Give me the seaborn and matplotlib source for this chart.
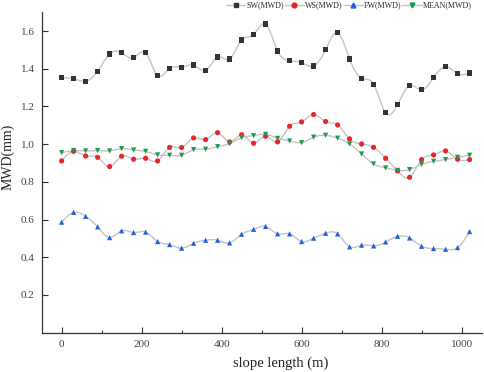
import numpy as np
import pandas as pd
import matplotlib
matplotlib.use("Agg")
import matplotlib.pyplot as plt
from matplotlib.lines import Line2D
from matplotlib.ticker import MultipleLocator
import seaborn as sns

slope_length = list(range(0, 1021, 30))

sw = [1.353, 1.347, 1.334, 1.387, 1.479, 1.485, 1.459, 1.485, 1.363, 1.403, 1.408, 1.420,
      1.392, 1.463, 1.452, 1.553, 1.581, 1.638, 1.494, 1.443, 1.432, 1.415, 1.501, 1.593,
      1.452, 1.350, 1.318, 1.166, 1.210, 1.310, 1.288, 1.353, 1.411, 1.374, 1.378]
ws = [0.911, 0.962, 0.937, 0.930, 0.881, 0.936, 0.920, 0.925, 0.911, 0.983, 0.982, 1.033,
      1.024, 1.061, 1.012, 1.050, 1.005, 1.042, 1.012, 1.095, 1.118, 1.157, 1.120, 1.102,
      1.028, 1.001, 0.983, 0.925, 0.858, 0.824, 0.918, 0.943, 0.964, 0.920, 0.918]
fw = [0.586, 0.638, 0.617, 0.561, 0.504, 0.540, 0.531, 0.533, 0.483, 0.467, 0.448, 0.474,
      0.490, 0.490, 0.476, 0.522, 0.548, 0.563, 0.524, 0.524, 0.483, 0.501, 0.527, 0.524,
      0.455, 0.464, 0.460, 0.481, 0.511, 0.502, 0.458, 0.446, 0.442, 0.451, 0.536]
mean = [0.955, 0.966, 0.964, 0.966, 0.964, 0.976, 0.969, 0.962, 0.943, 0.941, 0.941, 0.971,
        0.973, 0.987, 1.003, 1.035, 1.045, 1.052, 1.031, 1.017, 1.008, 1.037, 1.047, 1.032,
        1.001, 0.948, 0.895, 0.874, 0.861, 0.865, 0.893, 0.909, 0.918, 0.930, 0.941]

series_names = ["SW(MWD)", "WS(MWD)", "FW(MWD)", "MEAN(MWD)"]
series_values = [sw, ws, fw, mean]
series_colors = ["#333333", "#e8262a", "#1c63d8", "#1e9a50"]
series_markers = ["s", "o", "^", "v"]

x_ticks = [0, 200, 400, 600, 800, 1000]
y_ticks = [0.2, 0.4, 0.6, 0.8, 1.0, 1.2, 1.4, 1.6]

LINE_COLOR = "#c4c4c4"


def natural_spline(x, y, n=20):
    x = np.asarray(x, float)
    y = np.asarray(y, float)
    k = len(x)
    h = np.diff(x)
    A = np.zeros((k, k))
    b = np.zeros(k)
    A[0, 0] = 1
    A[-1, -1] = 1
    for i in range(1, k - 1):
        A[i, i - 1] = h[i - 1]
        A[i, i] = 2 * (h[i - 1] + h[i])
        A[i, i + 1] = h[i]
        b[i] = 3 * ((y[i + 1] - y[i]) / h[i] - (y[i] - y[i - 1]) / h[i - 1])
    c = np.linalg.solve(A, b)
    xs, ys = [], []
    for i in range(k - 1):
        t = np.linspace(0, h[i], n, endpoint=False)
        bi = (y[i + 1] - y[i]) / h[i] - h[i] * (2 * c[i] + c[i + 1]) / 3
        di = (c[i + 1] - c[i]) / (3 * h[i])
        xs.append(x[i] + t)
        ys.append(y[i] + bi * t + c[i] * t ** 2 + di * t ** 3)
    xs.append([x[-1]])
    ys.append([y[-1]])
    return np.concatenate(xs), np.concatenate(ys)


sns.set_style("ticks")
plt.rcParams["font.family"] = ["Liberation Serif", "DejaVu Serif"]

fig = plt.figure(figsize=(4.84, 3.72), dpi=100)
ax = fig.add_axes([0.086, 0.106, 0.909, 0.861])

handles = []
for name, vals, col, mk in zip(series_names, series_values, series_colors, series_markers):
    sx, sy = natural_spline(slope_length, vals)
    sns.lineplot(x=sx, y=sy, ax=ax, color=LINE_COLOR, linewidth=1.0, sort=False,
                 estimator=None, zorder=1)
    df = pd.DataFrame({"x": slope_length, "y": vals})
    sns.scatterplot(data=df, x="x", y="y", ax=ax, marker=mk, color=col, s=14,
                    edgecolor="none", linewidth=0, zorder=3)
    handles.append(Line2D([0], [0], color=LINE_COLOR, linewidth=1.0, marker=mk,
                          markersize=3.5, markerfacecolor=col, markeredgecolor=col))

ax.set_xlim(-50, 1050)
ax.set_ylim(0, 1.7)
ax.set_xticks(x_ticks)
ax.xaxis.set_minor_locator(MultipleLocator(100))
ax.set_yticks(y_ticks)
ax.set_yticklabels([f"{v:.1f}" for v in y_ticks])
ax.tick_params(axis="both", which="major", direction="in", length=4, width=0.8,
               labelsize=8, colors="#333333", pad=5)
ax.tick_params(axis="x", which="minor", direction="in", length=2, width=0.8, colors="#333333")
for lbl in ax.get_xticklabels() + ax.get_yticklabels():
    lbl.set_color("#444444")
for s in ["left", "bottom"]:
    ax.spines[s].set_color("#333333")
    ax.spines[s].set_linewidth(0.9)
sns.despine(ax=ax)

ax.set_xlabel("slope length (m)", fontsize=10.5, color="#222222")
ax.set_ylabel("MWD(mm)", fontsize=10, color="#222222")
ax.xaxis.set_label_coords(0.543, -0.074)
ax.yaxis.set_label_coords(-0.062, 0.547)

ax.legend(handles, series_names, loc="center right", bbox_to_anchor=(0.978, 1.021),
          ncol=4, frameon=False, fontsize=5.8, handlelength=2.4, handletextpad=0.15,
          columnspacing=0.1, borderaxespad=0, borderpad=0)

fig.savefig("out.png", dpi=100)
